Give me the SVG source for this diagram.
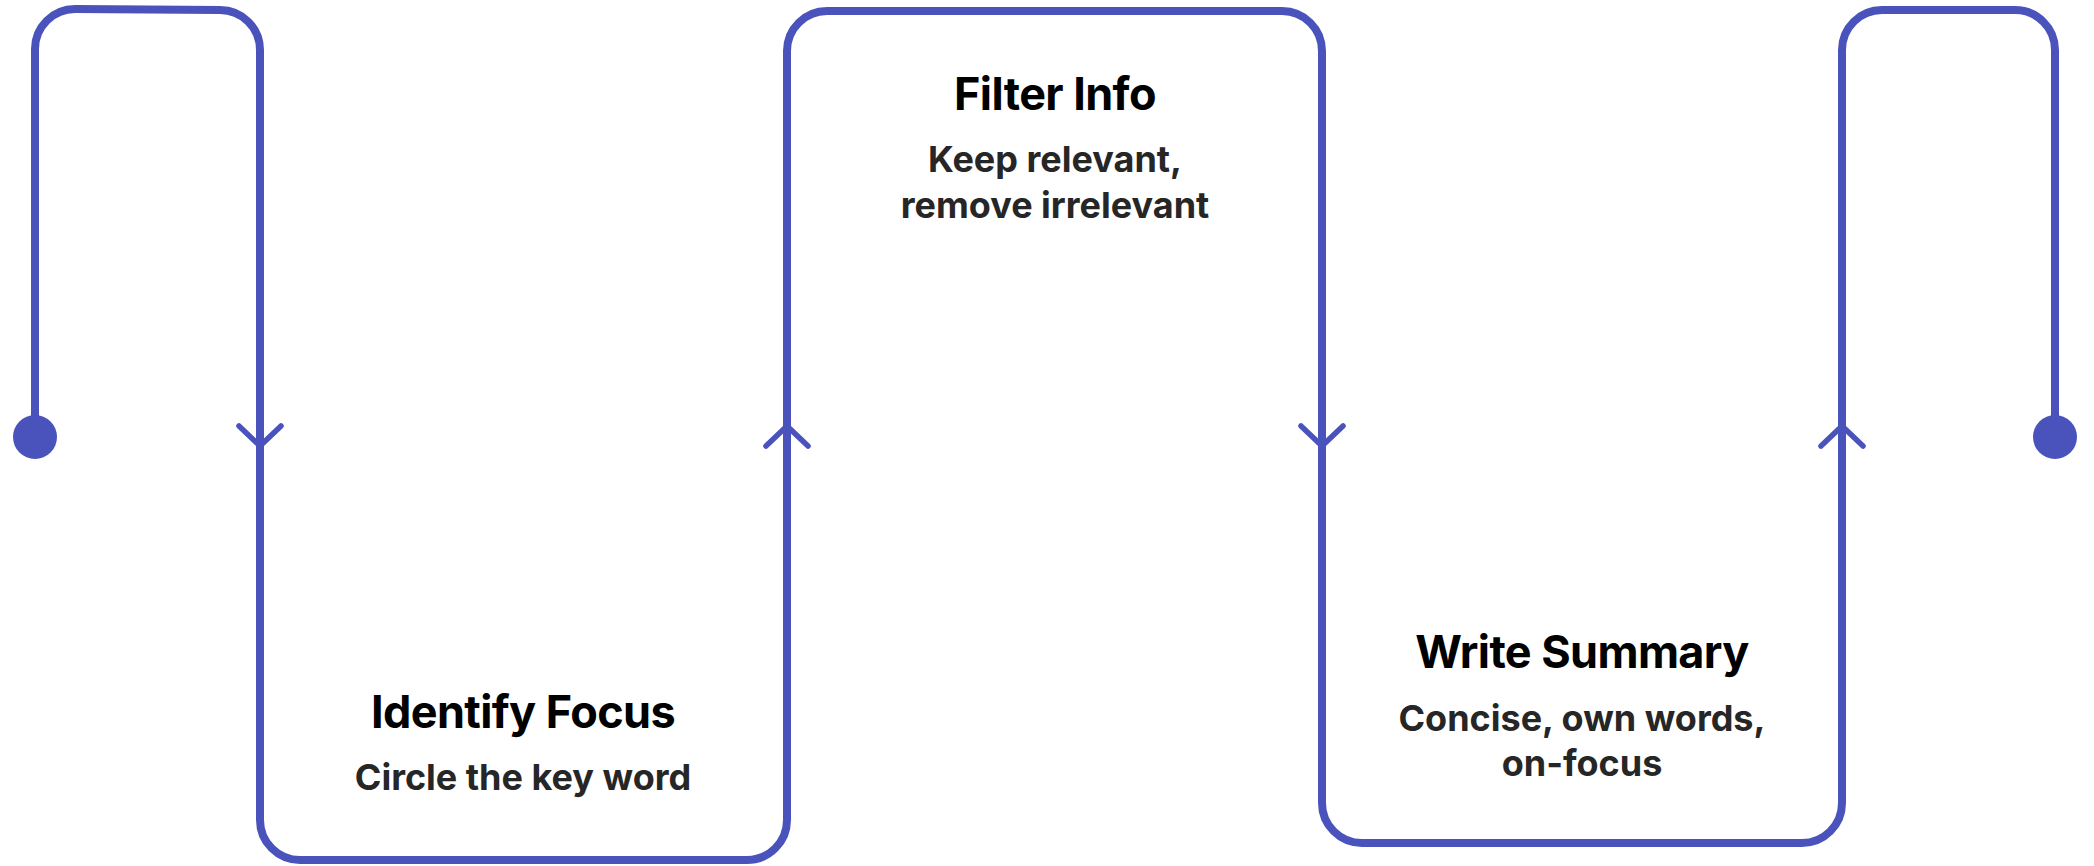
<svg xmlns="http://www.w3.org/2000/svg" width="2094" height="866" viewBox="0 0 2094 866">
  <style>
    .line { fill: none; stroke: #4a52bc; stroke-width: 8; stroke-linecap: butt; stroke-linejoin: round; }
    .title { font-family: Inter, "Noto Sans", "Liberation Sans", sans-serif; font-weight: 700; font-size: 45px; letter-spacing: -0.6px; fill: #000000; text-anchor: middle; }
    .sub { font-family: Inter, "Noto Sans", "Liberation Sans", sans-serif; font-weight: 700; font-size: 36px; fill: #262626; text-anchor: middle; }
  </style>
  <defs>
    <marker id="chev" markerUnits="userSpaceOnUse" markerWidth="50" markerHeight="50" viewBox="-25 -25 50 50" refX="0" refY="0" orient="auto" overflow="visible">
      <path d="M-20,-21 L0,0 L-20,21" fill="none" stroke="#4a52bc" stroke-width="5.5" stroke-linecap="round" stroke-linejoin="round"/>
    </marker>
    <marker id="dot" markerUnits="userSpaceOnUse" markerWidth="50" markerHeight="50" viewBox="-25 -25 50 50" refX="0" refY="0" orient="auto" overflow="visible">
      <circle cx="0" cy="0" r="22" fill="#4a52bc"/>
    </marker>
  </defs>
  <rect width="2094" height="866" fill="#ffffff"/>
  <g id="connectors">
    <path class="line" marker-start="url(#dot)" marker-end="url(#chev)" d="M35,437 V49 A40,40 0 0 1 75,9 L220,10 A40,40 0 0 1 260,50 V446"/>
    <path class="line" marker-end="url(#chev)" d="M260,446 V820 A40,40 0 0 0 300,860 H747 A40,40 0 0 0 787,820 V426"/>
    <path class="line" marker-end="url(#chev)" d="M787,426 V51 A40,40 0 0 1 827,11 H1282 A40,40 0 0 1 1322,51 V446"/>
    <path class="line" marker-end="url(#chev)" d="M1322,446 V803 A40,40 0 0 0 1362,843 H1802 A40,40 0 0 0 1842,803 V426"/>
    <path class="line" marker-end="url(#dot)" d="M1842,426 V50 A40,40 0 0 1 1882,10 H2015 A40,40 0 0 1 2055,50 V437"/>
  </g>
  <g id="node-identify-focus">
    <text class="title" x="523" y="728">Identify Focus</text>
    <text class="sub" x="523" y="790">Circle the key word</text>
  </g>
  <g id="node-filter-info">
    <text class="title" x="1055" y="110">Filter Info</text>
    <text class="sub" x="1055" y="172">Keep relevant,</text>
    <text class="sub" x="1055" y="218">remove irrelevant</text>
  </g>
  <g id="node-write-summary">
    <text class="title" x="1582" y="668">Write Summary</text>
    <text class="sub" x="1582" y="731">Concise, own words,</text>
    <text class="sub" x="1582" y="776">on-focus</text>
  </g>
</svg>
